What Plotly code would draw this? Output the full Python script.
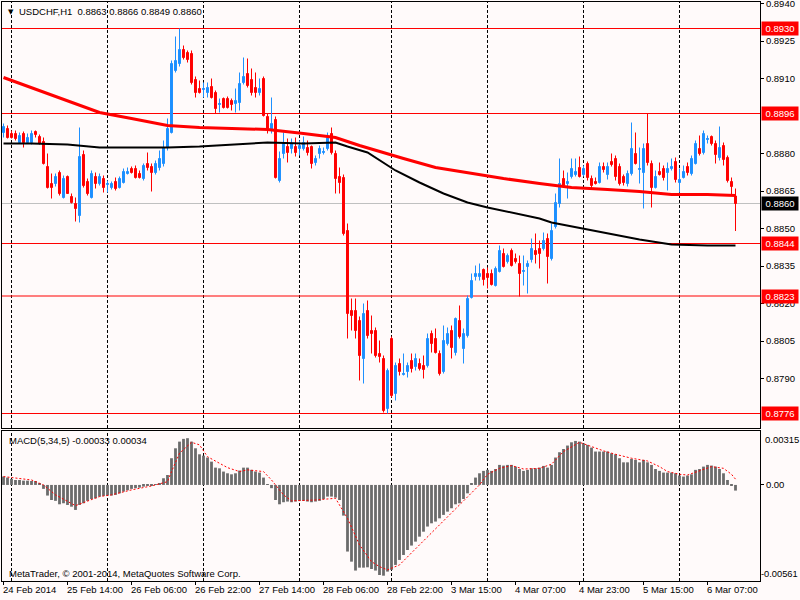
import plotly.graph_objects as go
from plotly.subplots import make_subplots

# USDCHF H1, 184 bars (24 Feb 2014 22:00 .. 6 Mar 2014 14:00)
opens = [
    0.88884, 0.88900, 0.88880, 0.88880, 0.88844, 0.88880, 0.88844, 0.88844, 0.88888, 0.88868,
    0.88848, 0.88748, 0.88680, 0.88680, 0.88724, 0.88624, 0.88708, 0.88628, 0.88600, 0.88552,
    0.88796, 0.88688, 0.88624, 0.88708, 0.88680, 0.88700, 0.88676, 0.88664, 0.88688, 0.88664,
    0.88684, 0.88720, 0.88740, 0.88740, 0.88720, 0.88700, 0.88760, 0.88748, 0.88724, 0.88744,
    0.88760, 0.88824, 0.88884, 0.89132, 0.89160, 0.89216, 0.89204, 0.89200, 0.89096, 0.89060,
    0.89056, 0.89044, 0.89068, 0.89044, 0.88996, 0.89020, 0.89020, 0.89012, 0.89000, 0.89004,
    0.89084, 0.89120, 0.89096, 0.89064, 0.89044, 0.89100, 0.88948, 0.88892, 0.88936, 0.88692,
    0.88800, 0.88828, 0.88820, 0.88828, 0.88820, 0.88820, 0.88824, 0.88828, 0.88764, 0.88800,
    0.88804, 0.88820, 0.88880, 0.88800, 0.88708, 0.88704, 0.88492, 0.88172, 0.88172, 0.88132,
    0.87980, 0.88172, 0.88092, 0.88092, 0.88000, 0.87980, 0.87780, 0.88060, 0.87840, 0.87960,
    0.87916, 0.87928, 0.87972, 0.87948, 0.87960, 0.87952, 0.87952, 0.88080, 0.88060, 0.88000,
    0.87928, 0.88040, 0.88092, 0.88004, 0.88132, 0.88020, 0.88072, 0.88224, 0.88308, 0.88308,
    0.88336, 0.88320, 0.88320, 0.88272, 0.88328, 0.88400, 0.88368, 0.88412, 0.88380, 0.88360,
    0.88328, 0.88348, 0.88376, 0.88412, 0.88420, 0.88420, 0.88460, 0.88380, 0.88508, 0.88600,
    0.88700, 0.88680, 0.88708, 0.88716, 0.88744, 0.88716, 0.88760, 0.88700, 0.88688, 0.88684,
    0.88748, 0.88716, 0.88768, 0.88780, 0.88748, 0.88708, 0.88680, 0.88720, 0.88800, 0.88736,
    0.88724, 0.88840, 0.88760, 0.88664, 0.88728, 0.88740, 0.88724, 0.88740, 0.88768, 0.88684,
    0.88704, 0.88748, 0.88720, 0.88760, 0.88820, 0.88804, 0.88856, 0.88868, 0.88840, 0.88784,
    0.88832, 0.88784, 0.88688, 0.88630,
]
highs = [
    0.88920, 0.88912, 0.88892, 0.88892, 0.88884, 0.88888, 0.88880, 0.88892, 0.88892, 0.88876,
    0.88864, 0.88800, 0.88720, 0.88720, 0.88732, 0.88712, 0.88712, 0.88640, 0.88624, 0.88904,
    0.88812, 0.88700, 0.88732, 0.88724, 0.88720, 0.88712, 0.88692, 0.88688, 0.88704, 0.88708,
    0.88740, 0.88744, 0.88748, 0.88752, 0.88732, 0.88760, 0.88804, 0.88760, 0.88772, 0.88812,
    0.88852, 0.88940, 0.89172, 0.89268, 0.89300, 0.89232, 0.89212, 0.89212, 0.89108, 0.89092,
    0.89084, 0.89084, 0.89100, 0.89052, 0.89020, 0.89024, 0.89028, 0.89020, 0.89060, 0.89124,
    0.89184, 0.89180, 0.89140, 0.89124, 0.89100, 0.89108, 0.88960, 0.89024, 0.88948, 0.88808,
    0.88884, 0.88860, 0.88860, 0.88864, 0.88852, 0.88868, 0.88852, 0.88832, 0.88792, 0.88832,
    0.88824, 0.88884, 0.88904, 0.88812, 0.88744, 0.88716, 0.88520, 0.88220, 0.88220, 0.88148,
    0.88200, 0.88212, 0.88152, 0.88104, 0.88052, 0.87992, 0.87940, 0.88068, 0.87964, 0.87980,
    0.88000, 0.87964, 0.88000, 0.88000, 0.87980, 0.87992, 0.88080, 0.88092, 0.88100, 0.88012,
    0.88112, 0.88104, 0.88112, 0.88144, 0.88192, 0.88100, 0.88232, 0.88320, 0.88352, 0.88360,
    0.88340, 0.88344, 0.88336, 0.88348, 0.88432, 0.88420, 0.88400, 0.88420, 0.88400, 0.88392,
    0.88392, 0.88372, 0.88460, 0.88480, 0.88452, 0.88484, 0.88480, 0.88520, 0.88640, 0.88780,
    0.88732, 0.88724, 0.88780, 0.88780, 0.88788, 0.88752, 0.88768, 0.88712, 0.88704, 0.88764,
    0.88764, 0.88764, 0.88800, 0.88792, 0.88760, 0.88716, 0.88732, 0.88924, 0.88884, 0.88824,
    0.88840, 0.88960, 0.88772, 0.88732, 0.88764, 0.88752, 0.88764, 0.88780, 0.88784, 0.88740,
    0.88752, 0.88764, 0.88792, 0.88852, 0.88872, 0.88892, 0.88872, 0.88872, 0.88852, 0.88908,
    0.88844, 0.88792, 0.88704, 0.88660,
]
lows = [
    0.88864, 0.88860, 0.88860, 0.88852, 0.88840, 0.88824, 0.88840, 0.88836, 0.88864, 0.88836,
    0.88756, 0.88660, 0.88620, 0.88668, 0.88632, 0.88620, 0.88640, 0.88600, 0.88528, 0.88524,
    0.88664, 0.88632, 0.88620, 0.88660, 0.88672, 0.88644, 0.88644, 0.88656, 0.88652, 0.88660,
    0.88680, 0.88716, 0.88720, 0.88700, 0.88700, 0.88692, 0.88732, 0.88648, 0.88716, 0.88732,
    0.88748, 0.88812, 0.88880, 0.89124, 0.89148, 0.89176, 0.89164, 0.89076, 0.89024, 0.89040,
    0.89024, 0.89024, 0.89020, 0.88960, 0.88964, 0.88980, 0.88980, 0.88972, 0.88964, 0.88972,
    0.89076, 0.89064, 0.89032, 0.89024, 0.89032, 0.88948, 0.88880, 0.88880, 0.88700, 0.88684,
    0.88780, 0.88764, 0.88800, 0.88788, 0.88792, 0.88812, 0.88792, 0.88740, 0.88752, 0.88780,
    0.88796, 0.88812, 0.88796, 0.88640, 0.88640, 0.88472, 0.88060, 0.88092, 0.88060, 0.87892,
    0.87880, 0.88060, 0.88000, 0.87984, 0.87964, 0.87764, 0.87760, 0.87824, 0.87812, 0.87912,
    0.87912, 0.87904, 0.87924, 0.87932, 0.87932, 0.87900, 0.87944, 0.88004, 0.88000, 0.87912,
    0.87920, 0.88032, 0.87980, 0.87992, 0.88060, 0.87960, 0.88064, 0.88220, 0.88292, 0.88292,
    0.88272, 0.88260, 0.88272, 0.88268, 0.88324, 0.88344, 0.88360, 0.88348, 0.88360, 0.88228,
    0.88272, 0.88240, 0.88364, 0.88360, 0.88340, 0.88412, 0.88280, 0.88372, 0.88500, 0.88584,
    0.88664, 0.88620, 0.88700, 0.88708, 0.88704, 0.88708, 0.88692, 0.88660, 0.88676, 0.88680,
    0.88724, 0.88696, 0.88748, 0.88692, 0.88672, 0.88672, 0.88668, 0.88712, 0.88756, 0.88680,
    0.88580, 0.88752, 0.88584, 0.88660, 0.88712, 0.88692, 0.88652, 0.88732, 0.88684, 0.88644,
    0.88700, 0.88712, 0.88712, 0.88756, 0.88792, 0.88796, 0.88840, 0.88832, 0.88760, 0.88772,
    0.88752, 0.88684, 0.88632, 0.88490,
]
closes = [
    0.88908, 0.88864, 0.88864, 0.88860, 0.88872, 0.88844, 0.88864, 0.88880, 0.88876, 0.88840,
    0.88760, 0.88664, 0.88664, 0.88708, 0.88640, 0.88700, 0.88640, 0.88604, 0.88580, 0.88788,
    0.88672, 0.88640, 0.88720, 0.88680, 0.88708, 0.88664, 0.88680, 0.88680, 0.88660, 0.88700,
    0.88728, 0.88728, 0.88724, 0.88704, 0.88704, 0.88752, 0.88744, 0.88724, 0.88760, 0.88780,
    0.88824, 0.88900, 0.89160, 0.89172, 0.89216, 0.89184, 0.89176, 0.89084, 0.89044, 0.89044,
    0.89060, 0.89064, 0.89024, 0.88980, 0.89000, 0.88984, 0.88984, 0.88996, 0.89012, 0.89080,
    0.89108, 0.89072, 0.89044, 0.89044, 0.89060, 0.88952, 0.88900, 0.88920, 0.88704, 0.88780,
    0.88844, 0.88804, 0.88840, 0.88804, 0.88832, 0.88844, 0.88804, 0.88760, 0.88780, 0.88820,
    0.88808, 0.88864, 0.88804, 0.88700, 0.88684, 0.88480, 0.88160, 0.88152, 0.88092, 0.87992,
    0.88160, 0.88072, 0.88080, 0.87992, 0.87988, 0.87772, 0.87932, 0.87832, 0.87952, 0.87928,
    0.87920, 0.87952, 0.87940, 0.87980, 0.87940, 0.87936, 0.88060, 0.88040, 0.88004, 0.87920,
    0.88052, 0.88080, 0.88024, 0.88140, 0.88068, 0.88080, 0.88220, 0.88292, 0.88320, 0.88320,
    0.88296, 0.88304, 0.88276, 0.88340, 0.88412, 0.88348, 0.88392, 0.88352, 0.88368, 0.88320,
    0.88332, 0.88360, 0.88420, 0.88396, 0.88400, 0.88452, 0.88388, 0.88492, 0.88604, 0.88680,
    0.88672, 0.88688, 0.88740, 0.88728, 0.88708, 0.88740, 0.88704, 0.88672, 0.88680, 0.88748,
    0.88736, 0.88748, 0.88756, 0.88708, 0.88680, 0.88684, 0.88720, 0.88820, 0.88760, 0.88740,
    0.88820, 0.88764, 0.88664, 0.88708, 0.88716, 0.88704, 0.88740, 0.88748, 0.88696, 0.88696,
    0.88728, 0.88724, 0.88780, 0.88840, 0.88800, 0.88880, 0.88860, 0.88840, 0.88796, 0.88824,
    0.88776, 0.88692, 0.88668, 0.88600,
]
bars = list(range(len(opens)))

ma_red_bars = [0, 7, 16, 24, 32, 41, 49, 57, 66, 75, 83, 89, 97, 100, 108, 117, 125, 134, 142, 151, 159, 167, 176, 183]
ma_red = [0.89104, 0.89064, 0.89012, 0.88964, 0.88940, 0.88912, 0.88904, 0.88900, 0.88896, 0.88880,
          0.88864, 0.88832, 0.88792, 0.88780, 0.88744, 0.88720, 0.88700, 0.88680, 0.88664, 0.88656,
          0.88648, 0.88636, 0.88636, 0.88632]
ma_black_bars = [0, 7, 16, 24, 32, 41, 49, 57, 66, 75, 83, 86, 91, 98, 104, 110, 116, 121, 129, 134, 137, 142, 151, 159, 167, 176, 183]
ma_black = [0.88840, 0.88840, 0.88836, 0.88824, 0.88824, 0.88824, 0.88828, 0.88836, 0.88844, 0.88840,
            0.88844, 0.88828, 0.88804, 0.88732, 0.88684, 0.88640, 0.88604, 0.88584, 0.88556, 0.88540,
            0.88524, 0.88508, 0.88480, 0.88456, 0.88436, 0.88432, 0.88432]

# MACD(5,34,5) histogram, in points (1 pt = 0.00001)
macd_pts = [
    49, 43, 35, 29, 29, 25, 25, 23, 23, 10,
    -23, -62, -88, -93, -113, -107, -117, -127, -146, -117,
    -107, -93, -82, -78, -68, -64, -62, -62, -58, -49,
    -39, -31, -23, -19, -16, -10, -6, -4, 1, 8,
    39, 58, 156, 214, 253, 269, 273, 253, 214, 179,
    171, 160, 136, 101, 97, 78, 68, 62, 68, 84,
    101, 101, 88, 78, 72, 43, 4, -19, -88, -113,
    -101, -97, -101, -97, -93, -93, -97, -101, -97, -93,
    -82, -68, -68, -74, -88, -179, -389, -448, -500, -483,
    -483, -481, -491, -500, -526, -530, -506, -496, -467, -438,
    -409, -380, -354, -331, -302, -273, -243, -224, -214, -195,
    -175, -156, -136, -113, -107, -82, -49, 6, 43, 68,
    82, 88, 82, 93, 117, 113, 117, 117, 107, 93,
    82, 88, 97, 97, 101, 111, 101, 117, 160, 191,
    210, 230, 249, 257, 253, 243, 234, 218, 195, 195,
    195, 195, 185, 179, 156, 132, 132, 152, 146, 132,
    146, 132, 117, 93, 82, 72, 72, 72, 68, 55,
    49, 55, 62, 88, 93, 107, 117, 113, 107, 93,
    68, 29, -4, -33,
]
signal_bars = [0, 7, 10, 13, 18, 24, 27, 32, 37, 41, 42, 44, 47, 49, 51, 56, 59, 61, 65, 67,
               70, 72, 78, 83, 86, 89, 92, 94, 96, 99, 104, 109, 114, 119, 121, 124, 127, 130, 134, 137,
               140, 144, 147, 150, 153, 157, 161, 164, 166, 169, 171, 174, 177, 180, 182, 183]
signal_pts = [49, 29, 0, -58, -121, -68, -58, -29, -6, 19, 78, 185, 249, 234, 165, 101, 78, 88, 78, 29,
              -58, -93, -88, -78, -195, -350, -448, -477, -496, -467, -350, -234, -117, 0, 62, 97, 113, 93, 97, 121,
              195, 249, 224, 199, 179, 156, 140, 107, 78, 62, 58, 82, 107, 97, 62, 34]

levels = [0.8930, 0.8896, 0.8844, 0.8823, 0.8776]
bid = 0.8860
day_starts = [2, 26, 50, 74, 97, 121, 145, 169]
date_ticks = [0, 16, 32, 48, 64, 80, 96, 112, 128, 144, 160, 176]
date_labels = ["24 Feb 2014", "25 Feb 14:00", "26 Feb 06:00", "26 Feb 22:00", "27 Feb 14:00",
               "28 Feb 06:00", "28 Feb 22:00", "3 Mar 15:00", "4 Mar 07:00", "4 Mar 23:00",
               "5 Mar 15:00", "6 Mar 07:00"]
price_ticks = [0.8940, 0.8925, 0.8910, 0.8880, 0.8865, 0.8850, 0.8835, 0.8820, 0.8805, 0.8790]

X_RANGE = [-0.375, 189.125]
BG = "#FFFAFA"
FONT = "Liberation Sans, Arial, sans-serif"
UP = "#1E90FF"
DOWN = "#FF0000"

fig = make_subplots(rows=2, cols=1, shared_xaxes=True, vertical_spacing=0.005)

fig.add_trace(go.Candlestick(
    x=bars, open=opens, high=highs, low=lows, close=closes,
    increasing=dict(line=dict(color=UP, width=1), fillcolor=UP),
    decreasing=dict(line=dict(color=DOWN, width=1), fillcolor=DOWN),
    showlegend=False, hoverinfo="skip",
), row=1, col=1)
fig.add_trace(go.Scatter(x=ma_black_bars, y=ma_black, mode="lines",
                         line=dict(color="black", width=2), showlegend=False, hoverinfo="skip"), row=1, col=1)
fig.add_trace(go.Scatter(x=ma_red_bars, y=ma_red, mode="lines",
                         line=dict(color="#FF0000", width=3), showlegend=False, hoverinfo="skip"), row=1, col=1)

fig.add_trace(go.Bar(x=bars, y=[v * 1e-5 for v in macd_pts], marker=dict(color="#6B6B6B", line=dict(width=0)),
                     showlegend=False, hoverinfo="skip"), row=2, col=1)
fig.add_trace(go.Scatter(x=signal_bars, y=[v * 1e-5 for v in signal_pts], mode="lines",
                         line=dict(color="#FF0000", width=1, dash="2px,2px"),
                         showlegend=False, hoverinfo="skip"), row=2, col=1)

shapes = []
for d in day_starts:
    for yr in ("y domain", "y2 domain"):
        shapes.append(dict(type="line", xref="x", yref=yr, x0=d, x1=d, y0=0, y1=1,
                           line=dict(color="black", width=1, dash="3px,2px"), layer="below"))
shapes.append(dict(type="line", xref="x domain", yref="y", x0=0, x1=1, y0=bid, y1=bid,
                   line=dict(color="#C0C0C0", width=1), layer="below"))
for lv in levels:
    shapes.append(dict(type="line", xref="x domain", yref="y", x0=0, x1=1, y0=lv, y1=lv,
                       line=dict(color="#FF0000", width=1), layer="below"))

ann = []
ann.append(dict(text="▼", xref="paper", yref="paper", x=0, y=1, xanchor="left", yanchor="top",
                xshift=4, yshift=-4, showarrow=False, font=dict(size=7, color="black", family="DejaVu Sans")))
ann.append(dict(text="USDCHF,H1&nbsp;&nbsp;0.8863 0.8866 0.8849 0.8860", xref="paper", yref="paper",
                x=0, y=1, xanchor="left", yanchor="top", xshift=15, yshift=-2, showarrow=False,
                font=dict(size=9.5, color="black", family=FONT)))
ann.append(dict(text="MACD(5,34,5) -0.00033 0.00034", xref="paper", yref="y2 domain",
                x=0, y=1, xanchor="left", yanchor="top", xshift=5, yshift=-2, showarrow=False,
                font=dict(size=9.5, color="black", family=FONT)))
ann.append(dict(text="MetaTrader, © 2001-2014, MetaQuotes Software Corp.", xref="paper", yref="y2 domain",
                x=0, y=0, xanchor="left", yanchor="bottom", xshift=5, yshift=0, showarrow=False,
                font=dict(size=9.5, color="black", family=FONT)))
for t, lab in zip(date_ticks, date_labels):
    ann.append(dict(text=lab, xref="x", yref="paper", x=t, y=0, xanchor="left", yanchor="top",
                    xshift=-3, yshift=-1, showarrow=False, font=dict(size=9.5, color="black", family=FONT)))
for lv in levels:
    ann.append(dict(text=f"{lv:.4f}", xref="paper", yref="y", x=1, y=lv, xanchor="left", yanchor="middle",
                    xshift=1, showarrow=False, bgcolor="#FF0000", width=34, height=11, borderpad=1,
                    font=dict(size=9.5, color="white", family=FONT)))
ann.append(dict(text=f"{bid:.4f}", xref="paper", yref="y", x=1, y=bid, xanchor="left", yanchor="middle",
                xshift=1, showarrow=False, bgcolor="black", width=34, height=11, borderpad=1,
                font=dict(size=9.5, color="white", family=FONT)))
ann.append(dict(text="0.00315", xref="paper", yref="y2 domain", x=1, y=1, xanchor="left", yanchor="top",
                xshift=3, yshift=-1, showarrow=False, font=dict(size=9.5, color="black", family=FONT)))
ann.append(dict(text="-0.00561", xref="paper", yref="y2 domain", x=1, y=0, xanchor="left", yanchor="bottom",
                xshift=-1, yshift=0, showarrow=False, font=dict(size=9.3, color="black", family=FONT)))

axis_common = dict(showline=True, linecolor="black", linewidth=1, mirror=True, showgrid=False, zeroline=False)
fig.update_layout(
    width=800, height=600,
    margin=dict(l=2, r=40, t=2, b=19),
    paper_bgcolor=BG, plot_bgcolor=BG,
    font=dict(family=FONT, size=9.5, color="black"),
    bargap=0.3, boxgap=0.3,
    hovermode=False,
    shapes=shapes, annotations=ann,
    xaxis=dict(range=X_RANGE, showticklabels=False, ticks="", rangeslider=dict(visible=False), **axis_common),
    xaxis2=dict(range=X_RANGE, tickvals=date_ticks, ticks="outside", ticklen=3, tickcolor="black",
                showticklabels=False, **axis_common),
    yaxis=dict(domain=[0.26425, 1.0], range=[0.87702, 0.89406], side="right", tickvals=price_ticks,
               tickformat=".4f", ticks="outside", ticklen=3, tickcolor="black", automargin=False,
               ticklabeloverflow="allow", **axis_common),
    yaxis2=dict(domain=[0.0, 0.25907], range=[-0.00561, 0.00315], side="right", tickvals=[0],
                ticktext=["0.00"], ticks="outside", ticklen=3, tickcolor="black", automargin=False, **axis_common),
)

fig.write_html("out.html", config={"displayModeBar": False},
               post_script="document.body.style.margin='0';")
